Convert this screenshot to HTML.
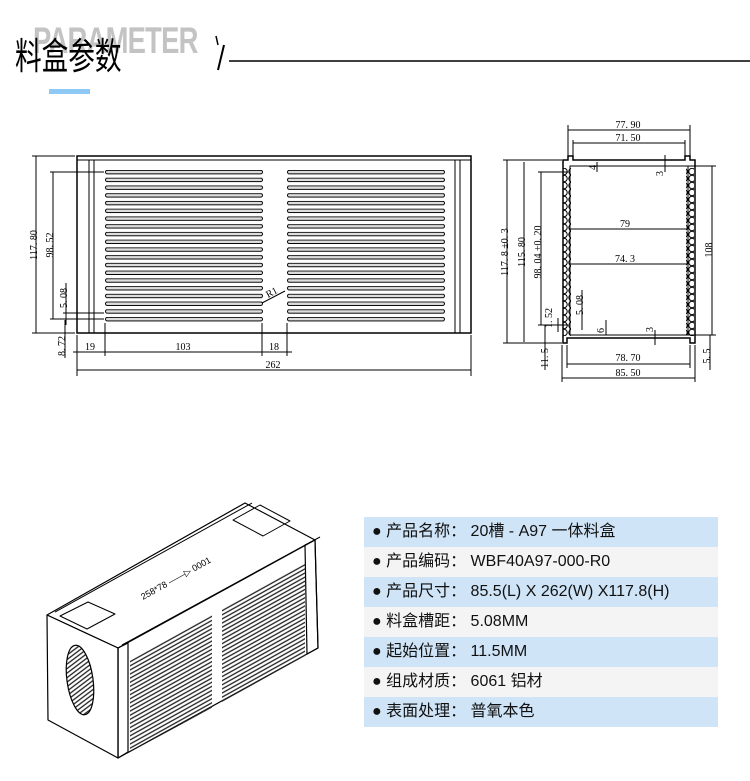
<!DOCTYPE html>
<html><head><meta charset="utf-8"><style>
body{margin:0;background:#fff;width:750px;height:781px;overflow:hidden;position:relative;font-family:"Liberation Sans","Noto Sans CJK SC",sans-serif}
.pm{position:absolute;left:33px;top:20px;font:bold 37px "Liberation Sans",sans-serif;color:#c3c3c3;letter-spacing:-1px;transform:scaleX(0.74);transform-origin:0 0}
.tt{position:absolute;left:15px;top:35px;font-size:37px;color:#000;font-family:"Noto Sans CJK SC",sans-serif;line-height:1;transform:scaleX(0.72);transform-origin:0 0}
.bar{position:absolute;left:49px;top:89px;width:41px;height:5px;background:#8ec8f5}
.tb{position:absolute;left:364px;top:517px;width:354px}
.tb div{height:30px;line-height:30px;font-size:16px;padding-left:8px;color:#111;font-family:"Liberation Sans","Noto Sans CJK SC",sans-serif}
.tb div:nth-child(odd){background:#cfe4f7}
.tb div:nth-child(even){background:#f4f4f4}
svg{position:absolute;left:0;top:0}
</style></head><body>
<div class="pm">PARAMETER</div>
<div class="tt">料盒参数</div>
<div class="bar"></div>
<svg width="750" height="781" font-family="Liberation Serif,serif" font-size="10">
<defs>
<pattern id="sl" x="105" y="170" width="160" height="7.74" patternUnits="userSpaceOnUse"><rect x="0.5" y="0.3" width="157" height="3.6" rx="1.8" fill="#ddd" stroke="#000" stroke-width="1"/></pattern>
<pattern id="sr" x="287" y="170" width="160" height="7.74" patternUnits="userSpaceOnUse"><rect x="0.5" y="0.3" width="157" height="3.6" rx="1.8" fill="#ddd" stroke="#000" stroke-width="1"/></pattern>
<pattern id="sc" x="0" y="168" width="8" height="7" patternUnits="userSpaceOnUse"><circle cx="4" cy="3.5" r="3.2" fill="none" stroke="#000" stroke-width="1"/></pattern>
<pattern id="iso" width="6" height="3.6" patternUnits="userSpaceOnUse" patternTransform="rotate(-29)"><line x1="0" y1="1" x2="6" y2="1" stroke="#222" stroke-width="1.3"/></pattern>
</defs>
<line x1="218" y1="70" x2="224" y2="45" stroke="#000" stroke-width="2"/><line x1="216" y1="36" x2="218" y2="45" stroke="#000" stroke-width="1.5"/>
<line x1="229" y1="61" x2="750" y2="61" stroke="#000" stroke-width="1.5"/>
<g stroke="#000" fill="none" stroke-width="1">
<rect x="77" y="156" width="394" height="177" stroke-width="1.5"/>
<line x1="77" y1="160" x2="471" y2="160"/>
<line x1="89" y1="160" x2="89" y2="333"/><line x1="94" y1="160" x2="94" y2="333"/>
<line x1="455" y1="160" x2="455" y2="333"/><line x1="460" y1="160" x2="460" y2="333"/>
<rect x="105" y="170" width="159" height="153" fill="url(#sl)" stroke="none"/>
<rect x="287" y="170" width="159" height="153" fill="url(#sr)" stroke="none"/>
<line x1="36" y1="156" x2="36" y2="333"/><line x1="32" y1="156" x2="75" y2="156"/><line x1="32" y1="333" x2="75" y2="333"/>
<line x1="53" y1="172" x2="53" y2="319"/><line x1="50" y1="172" x2="104" y2="172"/><line x1="50" y1="319" x2="104" y2="319"/>
<line x1="66" y1="283" x2="66" y2="325"/><line x1="63" y1="313" x2="104" y2="313"/>
<line x1="65" y1="320" x2="65" y2="358"/>
<line x1="77" y1="335" x2="77" y2="376"/><line x1="105" y1="323" x2="105" y2="356"/><line x1="262" y1="323" x2="262" y2="356"/><line x1="287" y1="323" x2="287" y2="356"/><line x1="471" y1="335" x2="471" y2="376"/>
<line x1="73" y1="352" x2="292" y2="352"/>
<line x1="77" y1="370" x2="471" y2="370"/>
<line x1="262" y1="303" x2="285" y2="291"/>
</g>
<g fill="#000">
<text transform="translate(37,245) rotate(-90)" text-anchor="middle">117. 80</text>
<text transform="translate(53,245) rotate(-90)" text-anchor="middle">98. 52</text>
<text transform="translate(67,298) rotate(-90)" text-anchor="middle">5. 08</text>
<text transform="translate(65,346) rotate(-90)" text-anchor="middle">8. 72</text>
<text x="90" y="350" text-anchor="middle">19</text><text x="183" y="350" text-anchor="middle">103</text><text x="274" y="350" text-anchor="middle">18</text>
<text x="273" y="368" text-anchor="middle">262</text>
<text transform="translate(268,298) rotate(-28)">R1</text>
</g>
<g stroke="#000" fill="none" stroke-width="1">
<path d="M563,160 H568 V156 H573 V160 H685 V156 H690 V160 H695 V343 H690 V338 H567 V343 H563 Z" stroke-width="1.5"/>
<rect x="570" y="166" width="118" height="169"/>
<rect x="563" y="168" width="8" height="168" fill="url(#sc)" stroke="none"/>
<rect x="686" y="168" width="8" height="168" fill="url(#sc)" stroke="none"/>
<line x1="568" y1="130" x2="690" y2="130"/><line x1="568" y1="125" x2="568" y2="158"/><line x1="690" y1="125" x2="690" y2="158"/>
<line x1="573" y1="143" x2="685" y2="143"/><line x1="573" y1="140" x2="573" y2="158"/><line x1="685" y1="140" x2="685" y2="158"/>
<line x1="507" y1="160" x2="507" y2="343"/><line x1="503" y1="160" x2="562" y2="160"/><line x1="503" y1="343" x2="562" y2="343"/>
<line x1="524" y1="162" x2="524" y2="342"/>
<line x1="541" y1="172" x2="541" y2="325"/><line x1="538" y1="172" x2="568" y2="172"/><line x1="538" y1="325" x2="568" y2="325"/>
<line x1="712" y1="166" x2="712" y2="335"/><line x1="688" y1="166" x2="716" y2="166"/><line x1="688" y1="335" x2="716" y2="335"/>
<line x1="570" y1="229" x2="688" y2="229"/><line x1="570" y1="264" x2="688" y2="264"/>
<line x1="567" y1="364" x2="690" y2="364"/><line x1="567" y1="345" x2="567" y2="368"/><line x1="690" y1="345" x2="690" y2="368"/>
<line x1="562" y1="378" x2="695" y2="378"/><line x1="562" y1="345" x2="562" y2="382"/><line x1="695" y1="345" x2="695" y2="382"/>
<line x1="545" y1="325" x2="545" y2="370"/><line x1="710" y1="335" x2="710" y2="370"/>
<line x1="582" y1="290" x2="582" y2="330"/><line x1="558" y1="318" x2="558" y2="332"/>
<line x1="597" y1="162" x2="597" y2="172"/><line x1="665" y1="155" x2="665" y2="172"/><line x1="606" y1="320" x2="606" y2="335"/><line x1="655" y1="330" x2="655" y2="345"/>
</g>
<g fill="#000">
<text x="628" y="128" text-anchor="middle">77. 90</text><text x="628" y="141" text-anchor="middle">71. 50</text>
<text x="625" y="227" text-anchor="middle">79</text><text x="625" y="262" text-anchor="middle">74. 3</text>
<text x="628" y="361" text-anchor="middle">78. 70</text><text x="628" y="376" text-anchor="middle">85. 50</text>
<text transform="translate(508,252) rotate(-90)" text-anchor="middle">117. 8 ±0. 3</text>
<text transform="translate(525,252) rotate(-90)" text-anchor="middle">115. 80</text>
<text transform="translate(541,252) rotate(-90)" text-anchor="middle">98. 04 ±0. 20</text>
<text transform="translate(712,250) rotate(-90)" text-anchor="middle">108</text>
<text transform="translate(552,318) rotate(-90)" text-anchor="middle">1. 52</text>
<text transform="translate(583,305) rotate(-90)" text-anchor="middle">5. 08</text>
<text transform="translate(548,358) rotate(-90)" text-anchor="middle">11. 5</text>
<text transform="translate(710,356) rotate(-90)" text-anchor="middle">5. 5</text>
<text transform="translate(596,170) rotate(-90)">4</text><text transform="translate(663,176) rotate(-90)">3</text>
<text transform="translate(604,333) rotate(-90)">6</text><text transform="translate(653,332) rotate(-90)">3</text>
</g>
<g stroke="#000" stroke-width="1.2" fill="#fff" stroke-linejoin="round">
<polygon points="47,615 245,503 315,540 118,648"/>
<polygon points="118,648 315,540 318,648 118,758"/>
<polygon points="47,615 118,648 118,758 48,720"/>
<polygon points="118,648 128,643 128,752 118,758" fill="none"/>
<polygon points="305,545 315,540 318,648 307,654" fill="none"/>
<line x1="55" y1="612" x2="252" y2="503" stroke-width="1"/>
<line x1="122" y1="645" x2="320" y2="537" stroke-width="1"/>
<polygon points="60,616 88,602 115,614 87,629" fill="none" stroke-width="1"/>
<polygon points="233,520 260,505 290,521 263,536" fill="none" stroke-width="1"/>
<ellipse cx="80" cy="680" rx="13" ry="35" transform="rotate(-8 80 680)" fill="url(#iso)"/>
<polygon points="130,660 212,614 212,708 130,752" fill="url(#iso)" stroke="none"/>
<polygon points="222,608 305,563 305,656 222,702" fill="url(#iso)" stroke="none"/>
</g>
<text transform="translate(143,600) rotate(-29)" font-family="Liberation Sans,sans-serif" font-size="9" fill="#000">258*78 ——▷ 0001</text>
</svg>
<div class="tb">
<div>● 产品名称：&nbsp;20槽 - A97 一体料盒</div>
<div>● 产品编码：&nbsp;WBF40A97-000-R0</div>
<div>● 产品尺寸：&nbsp;85.5(L) X 262(W) X117.8(H)</div>
<div>● 料盒槽距：&nbsp;5.08MM</div>
<div>● 起始位置：&nbsp;11.5MM</div>
<div>● 组成材质：&nbsp;6061 铝材</div>
<div>● 表面处理：&nbsp;普氧本色</div>
</div>
</body></html>
